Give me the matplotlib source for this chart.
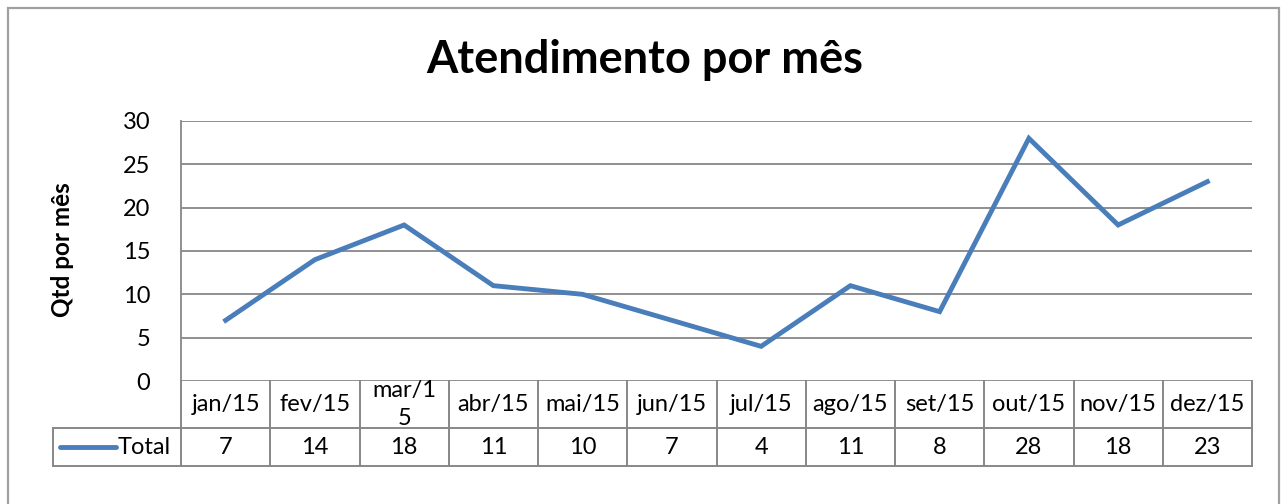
import matplotlib.pyplot as plt
from matplotlib.patches import Rectangle

meses = ['jan/15', 'fev/15', 'mar/1\n5', 'abr/15', 'mai/15', 'jun/15',
         'jul/15', 'ago/15', 'set/15', 'out/15', 'nov/15', 'dez/15']
total = [7, 14, 18, 11, 10, 7, 4, 11, 8, 28, 18, 23]
yticks = [0, 5, 10, 15, 20, 25, 30]

W, H = 1281, 504
fonte = ['Lato', 'DejaVu Sans']
cinza = '#878787'
azul = '#4a7ebb'
fs = 17

fig = plt.figure(figsize=(W / 100, H / 100), dpi=100)

# borda externa do gráfico
fig.patches.append(Rectangle((8 / W, -0.1), (1279 - 8) / W, 1.1 - 8 / H,
                             transform=fig.transFigure, fill=False,
                             edgecolor='#a0a0a0', lw=1.6))

# área de plotagem
x0, x1, y0, y1 = 181, 1252, 121, 381
ax = fig.add_axes([x0 / W, 1 - y1 / H, (x1 - x0) / W, (y1 - y0) / H])
x = list(range(len(total)))
ax.plot(x, total, color=azul, lw=3.5, solid_joinstyle='miter', zorder=3)
ax.set_xlim(-0.5, len(total) - 0.5)
ax.set_ylim(0, 30)
ax.set_yticks(yticks)
ax.set_yticklabels([str(v) for v in yticks], fontsize=fs, family=fonte)
ax.set_xticks([])
ax.tick_params(axis='y', length=0, pad=22)
for v in yticks:
    ax.axhline(v, color=cinza, lw=1.3, zorder=1)
for s in ['top', 'right', 'bottom']:
    ax.spines[s].set_visible(False)
ax.spines['left'].set_color(cinza)
ax.spines['left'].set_linewidth(1.3)

# tabela de dados abaixo do eixo
h_cab = (428 - 381) / (y1 - y0)
h_val = (466 - 381) / (y1 - y0)
leg_x = (53 - x0) / (x1 - x0) * len(total) - 0.5
kw = dict(color=cinza, lw=1.4, clip_on=False,
          transform=ax.get_xaxis_transform())
for k in range(len(total) + 1):
    ax.plot([k - 0.5, k - 0.5], [0, -h_val], **kw)
ax.plot([leg_x, len(total) - 0.5], [-h_cab, -h_cab], **kw)
ax.plot([leg_x, len(total) - 0.5], [-h_val, -h_val], **kw)
ax.plot([leg_x, leg_x], [-h_cab, -h_val], **kw)

for i, (m, v) in enumerate(zip(meses, total)):
    ax.text(i, -h_cab / 2, m, ha='center', va='center', fontsize=fs,
            family=fonte, linespacing=1.45, transform=ax.get_xaxis_transform())
    ax.text(i, -(h_cab + h_val) / 2, str(v), ha='center', va='center',
            fontsize=fs, family=fonte, transform=ax.get_xaxis_transform())

# legenda dentro da tabela
px = (x1 - x0) / len(total)
lx0 = (60 - x0) / px - 0.5
lx1 = (116 - x0) / px - 0.5
ax.plot([lx0, lx1], [-(h_cab + h_val) / 2] * 2, color=azul, lw=3.5,
        clip_on=False, solid_capstyle='round',
        transform=ax.get_xaxis_transform())
ax.text(lx1 + 0.02, -(h_cab + h_val) / 2, 'Total', ha='left', va='center',
        fontsize=fs, family=fonte, transform=ax.get_xaxis_transform())

fig.text(645 / W, 1 - 60 / H, 'Atendimento por mês', ha='center', va='center',
         fontsize=32.5, fontweight='bold', family=fonte)
fig.text(62 / W, 1 - 250 / H, 'Qtd por mês', ha='center', va='center',
         rotation=90, fontsize=17.5, fontweight='bold', family=fonte)

fig.savefig('out.png', dpi=100)
